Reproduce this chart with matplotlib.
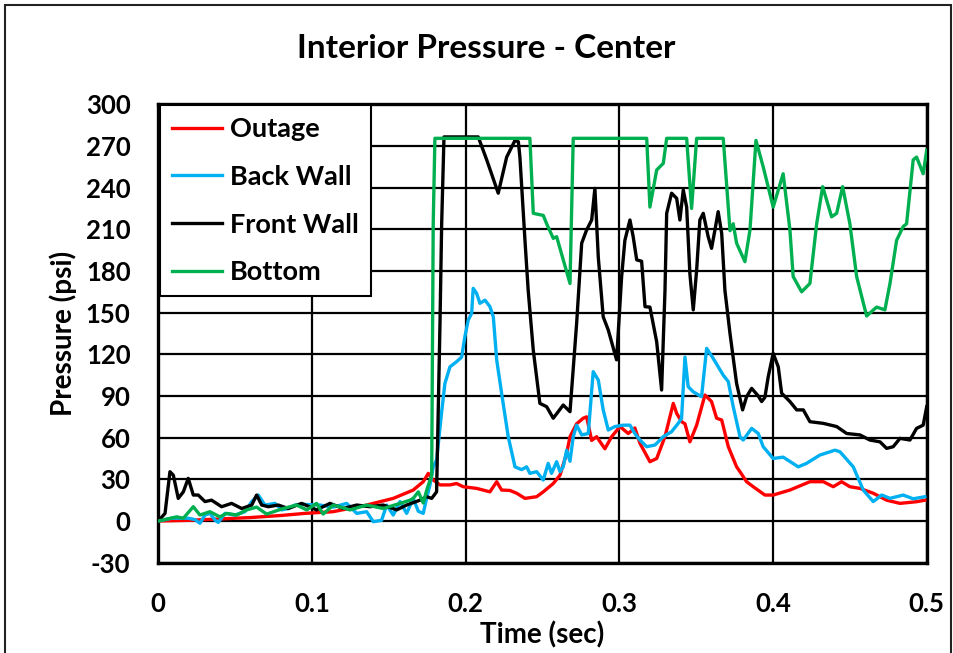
import matplotlib
matplotlib.use("Agg")
import matplotlib.pyplot as plt
from matplotlib.patches import Rectangle

plt.rcParams['font.family'] = ['Lato', 'DejaVu Sans']
plt.rcParams['font.weight'] = 'bold'
plt.rcParams['axes.unicode_minus'] = False

# Outage
outage_t = [0, 0.02, 0.04, 0.06, 0.08, 0.0954, 0.1137, 0.1356, 0.1529, 0.1659, 0.1724, 0.1757,
            0.1789, 0.1833, 0.1898, 0.1941, 0.1984, 0.2071, 0.2158, 0.2202, 0.2234, 0.2288,
            0.2332, 0.2386, 0.2462, 0.2505, 0.257, 0.2614, 0.2657, 0.2679, 0.2722, 0.2765,
            0.2787, 0.282, 0.2852, 0.2906, 0.295, 0.3004, 0.3058, 0.3101, 0.3134, 0.3199,
            0.3243, 0.3297, 0.3351, 0.3373, 0.3405, 0.3427, 0.3459, 0.3503, 0.3557, 0.36,
            0.3633, 0.3666, 0.3709, 0.3763, 0.3785, 0.3828, 0.3871, 0.3947, 0.4001, 0.411,
            0.424, 0.4327, 0.4392, 0.4446, 0.45, 0.4565, 0.4652, 0.4739, 0.4826, 0.4934, 0.4988]
outage_p = [0, 0.5, 1.5, 2.5, 4, 5.5, 6.7, 11.5, 16.3, 22.3, 28.3, 34.3,
            29.5, 26, 26, 27, 24.7, 23.5, 21, 28.3, 22.3, 22,
            20, 16.3, 17.5, 21, 27, 33, 48.7, 60.7, 70, 74,
            75, 58, 60.7, 52, 60.7, 68, 63, 67, 56, 42.7,
            45, 60.7, 84.7, 77.5, 71.5, 70, 57, 69, 90.7, 86,
            74, 72.7, 53.5, 39, 35.5, 28.3, 24.7, 18.7, 18.7, 22.3,
            28.3, 28.3, 24.7, 28.3, 24.7, 23.5, 20, 15, 12.7, 13.9, 15]

# Back Wall
back_t = [0, 0.0088, 0.0195, 0.0239, 0.0271, 0.0304, 0.0336, 0.0369, 0.039, 0.0434, 0.0499,
          0.0564, 0.0608, 0.0651, 0.0694, 0.0759, 0.0803, 0.0846, 0.0889, 0.0933, 0.1052,
          0.1139, 0.1226, 0.1291, 0.1356, 0.1399, 0.1453, 0.1486, 0.1529, 0.1573, 0.1616,
          0.1659, 0.1692, 0.1724, 0.1746, 0.1768, 0.1789, 0.1811, 0.1844, 0.1865, 0.1898,
          0.1941, 0.1974, 0.1995, 0.2017, 0.2039, 0.2049, 0.2071, 0.2093, 0.2126, 0.2158,
          0.218, 0.2202, 0.2234, 0.2277, 0.2321, 0.2364, 0.2397, 0.2418, 0.2462, 0.2505,
          0.2537, 0.2559, 0.2592, 0.2614, 0.2635, 0.2657, 0.2679, 0.27, 0.2722, 0.2755,
          0.2798, 0.283, 0.2863, 0.2895, 0.2928, 0.2971, 0.3025, 0.3069, 0.3101, 0.3134,
          0.3178, 0.3232, 0.3286, 0.334, 0.3383, 0.3405, 0.3427, 0.3448, 0.3481, 0.3535,
          0.3568, 0.3611, 0.3676, 0.3709, 0.3741, 0.3785, 0.3806, 0.3861, 0.3904, 0.3936,
          0.4001, 0.4066, 0.4164, 0.4218, 0.4305, 0.4403, 0.4435, 0.4522, 0.4587, 0.4652,
          0.4707, 0.4761, 0.4847, 0.4912, 0.4988]
back_p = [0, 2, 2, 1, -1.6, 4.3, 5.5, 0.7, -1, 5.5, 4.3,
          6.7, 14, 18.7, 11.5, 12.7, 8, 9, 11.5, 12, 11.5,
          10, 12.7, 5.5, 6.7, -0.5, 0.5, 11.5, 4.3, 14, 5.5,
          16.3, 7, 5.5, 16.3, 26, 39, 44, 78.7, 99, 111,
          114.7, 118, 132.7, 144.7, 149.5, 167.5, 164, 156.7, 159, 154.3,
          147, 116, 92, 60.7, 39, 37, 39, 34.3, 35.5, 29.5,
          41.5, 34.3, 42.7, 35.5, 39, 51, 43, 60.7, 69, 62,
          63, 107.5, 101.5, 80, 65.5, 68, 69, 69, 63, 58.3,
          53.5, 54.7, 60.7, 64.3, 70.3, 74, 118, 96.7, 93, 89.5,
          124.3, 117, 105, 100.3, 82.3, 60.7, 58.3, 66.7, 63, 53.5,
          45, 46, 39, 41.5, 47.5, 51, 49.9, 39, 22.3, 14,
          18.7, 16.3, 18.7, 16, 17.5]

# Front Wall
front_t = [0, 0.0044, 0.0076, 0.0098, 0.013, 0.0163, 0.0195, 0.0228, 0.026, 0.0304, 0.0347,
           0.0412, 0.0477, 0.0543, 0.0608, 0.064, 0.0673, 0.0716, 0.0781, 0.0846, 0.0933,
           0.103, 0.1117, 0.1204, 0.1291, 0.1377, 0.1464, 0.1551, 0.1616, 0.1703, 0.1746,
           0.1779, 0.1811, 0.1833, 0.1844, 0.1859, 0.2082, 0.2137, 0.2212, 0.2267, 0.2321,
           0.2343, 0.2353, 0.2386, 0.2407, 0.244, 0.2483, 0.2527, 0.257, 0.2635, 0.2679,
           0.2722, 0.2755, 0.2787, 0.282, 0.2841, 0.2863, 0.2895, 0.2928, 0.2982, 0.3015,
           0.3036, 0.3069, 0.309, 0.3113, 0.3145, 0.3167, 0.3199, 0.3243, 0.3275, 0.3297,
           0.3308, 0.334, 0.3373, 0.3394, 0.3416, 0.3438, 0.3459, 0.3481, 0.3503, 0.3524,
           0.3546, 0.3578, 0.36, 0.3622, 0.3643, 0.3666, 0.3687, 0.372, 0.3763, 0.3802,
           0.3828, 0.3861, 0.3904, 0.3926, 0.3947, 0.3969, 0.4001, 0.4034, 0.4056, 0.411,
           0.4154, 0.4197, 0.424, 0.4327, 0.4414, 0.4479, 0.4565, 0.463, 0.4696, 0.4739,
           0.4782, 0.4826, 0.4891, 0.4934, 0.4977, 0.5]
front_p = [0, 5.5, 35.5, 33, 16.3, 21, 30.7, 18.7, 18.7, 14, 15,
           10.3, 12.7, 9, 11.5, 18.7, 11.5, 10.3, 11.5, 9, 12.7,
           8, 12.7, 9, 11.5, 10.3, 11.5, 8, 11.5, 15, 17.5,
           16.3, 21, 142, 214, 276.5, 276.5, 260, 236, 262, 274,
           273, 262, 202, 166, 123, 84.7, 82.3, 74, 83.5, 78.7,
           142, 200, 209.5, 216.7, 239.5, 190, 147, 137.5, 116, 176,
           202, 216.7, 204.7, 188, 187, 154.3, 154, 129, 94.3, 166,
           221.5, 236, 232.3, 216.7, 238.3, 226, 178, 152, 180.7, 216.7,
           221.5, 204.7, 196.3, 209.5, 222.7, 207, 166, 135, 99, 80,
           89.5, 95.5, 90, 86, 89, 104, 120.7, 111, 92, 86,
           80, 80, 71.5, 70.3, 68, 63, 62, 58.3, 57, 52.3,
           53.5, 59.5, 58.3, 66.7, 69, 82.3]

# Bottom
bottom_t = [0, 0.012, 0.0163, 0.0228, 0.0271, 0.0336, 0.0401, 0.0445, 0.051, 0.0575, 0.064,
            0.0705, 0.0813, 0.09, 0.0966, 0.103, 0.1073, 0.1139, 0.1247, 0.1356, 0.1464,
            0.1573, 0.1638, 0.1659, 0.1692, 0.1724, 0.1746, 0.1779, 0.1789, 0.18, 0.2418,
            0.244, 0.2505, 0.2527, 0.257, 0.2592, 0.2679, 0.27, 0.3178, 0.3199, 0.3243,
            0.3286, 0.3308, 0.3438, 0.347, 0.3503, 0.3676, 0.372, 0.3741, 0.3763, 0.3817,
            0.385, 0.3889, 0.3936, 0.4001, 0.4066, 0.411, 0.4131, 0.4186, 0.424, 0.4284,
            0.4323, 0.4381, 0.4414, 0.4453, 0.45, 0.4544, 0.4609, 0.4674, 0.4728, 0.4761,
            0.4804, 0.4847, 0.4869, 0.4912, 0.4934, 0.4977, 0.5]
bottom_p = [0, 3, 2, 10.3, 4.3, 6.7, 3, 5.5, 4.3, 8, 10,
            5, 9, 11.5, 8, 12.7, 5, 11.5, 8, 11.5, 9,
            12.7, 15, 16.3, 21, 13, 22, 33, 214, 275.5, 275.5,
            221.5, 220, 214, 203.5, 204.7, 171, 275.5, 275.5, 226, 252.7,
            257.5, 275.5, 275.5, 225, 275.5, 275.5, 209, 214, 200, 186.7,
            209.5, 274, 255, 226, 250, 209.5, 176, 165, 171, 214,
            240.7, 219, 221.5, 240.7, 214, 176, 147.6, 154, 152, 171,
            202, 212, 214, 260, 262, 250, 267]

fig = plt.figure(figsize=(9.54, 6.53), dpi=100)
ax = fig.add_axes([0.1659, 0.1383, 0.8055, 0.702])

ax.plot(outage_t, outage_p, color='#FF0000', lw=2.4, label='Outage', zorder=3)
ax.plot(back_t, back_p, color='#00B0F0', lw=2.4, label='Back Wall', zorder=3)
ax.plot(front_t, front_p, color='#000000', lw=2.4, label='Front Wall', zorder=3)
ax.plot(bottom_t, bottom_p, color='#00B050', lw=2.4, label='Bottom', zorder=3)

ax.set_xlim(0, 0.5)
ax.set_ylim(-30, 300)
ax.set_xticks([0, 0.1, 0.2, 0.3, 0.4, 0.5])
ax.set_xticklabels(['0', '0.1', '0.2', '0.3', '0.4', '0.5'])
ax.set_yticks(range(-30, 301, 30))
ax.grid(True, color='black', lw=1.6)
ax.set_axisbelow(True)
ax.tick_params(length=0, labelsize=18.5, pad=20)
ax.tick_params(axis='x', pad=21)
for s in ax.spines.values():
    s.set_linewidth(2.4)

# title sits centred on the whole chart, not on the plot area
ax.set_title('Interior Pressure - Center', fontsize=24, fontweight='bold', pad=33, x=0.4265)
ax.set_xlabel('Time (sec)', fontsize=20, fontweight='bold', labelpad=4)
ax.set_ylabel('Pressure (psi)', fontsize=20, fontweight='bold', labelpad=6)

leg = ax.legend(loc='upper left', bbox_to_anchor=(0.002, 0.998), borderaxespad=0,
                fontsize=19.5, frameon=True, fancybox=False, framealpha=1,
                edgecolor='black', handlelength=1.85, handletextpad=0.28,
                labelspacing=0.87, borderpad=0.45)
leg.get_frame().set_linewidth(1.5)

# chart area border
fig.patches.append(Rectangle((5 / 954, -0.05), 946 / 954, 1.05 - 5 / 653,
                             transform=fig.transFigure, fill=False,
                             edgecolor='#222222', lw=1.5, clip_on=False))

fig.savefig('out.png', dpi=100)
